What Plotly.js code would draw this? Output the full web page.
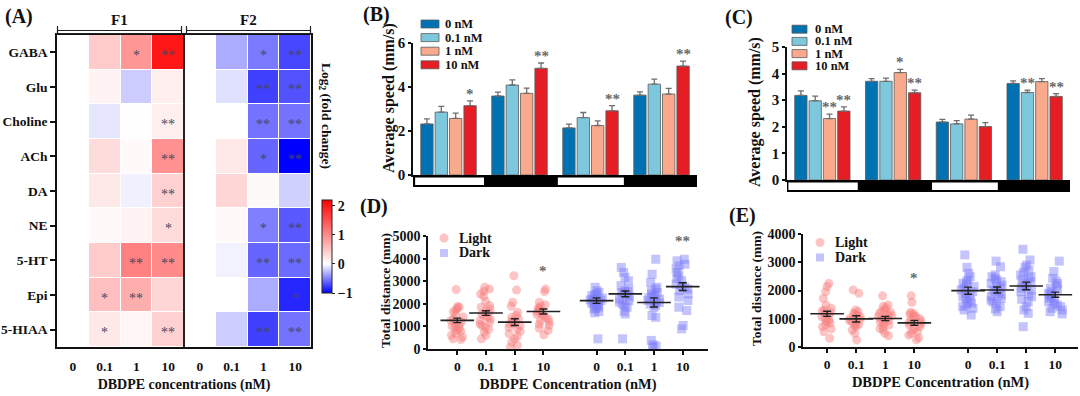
<!DOCTYPE html>
<html><head><meta charset="utf-8">
<script src="https://cdn.plot.ly/plotly-3.0.1.min.js"></script>
<style>html,body{margin:0;padding:0;background:#fff}#chart{width:1080px;height:396px}</style>
</head><body><div id="chart"></div>
<script>
// ---------------- DATA ----------------
const metabolites = ['GABA','Glu','Choline','ACh','DA','NE','5-HT','Epi','5-HIAA'];
const concLabels = ['0','0.1','1','10'];
const generations = ['F1','F2'];
// log2 fold change, columns: F1(0,0.1,1,10), F2(0,0.1,1,10)
const log2FC = [
  [0, 0.45, 0.90, 2.00, 0, -0.33, -0.52, -0.72],
  [0, 0.10, -0.20, 0.15, 0, -0.12, -0.75, -0.68],
  [0, -0.10, 0.02, 0.15, 0, 0.00, -0.55, -0.55],
  [0, 0.30, 0.05, 0.95, 0, 0.20, -0.60, -1.00],
  [0, 0.20, -0.06, 0.40, 0, 0.35, 0.04, -0.18],
  [0, 0.05, 0.10, 0.30, 0, 0.05, -0.50, -0.65],
  [0, 0.45, 1.10, 1.00, 0, -0.05, -0.60, -0.58],
  [0, 0.55, 0.70, 0.35, 0, 0.00, -0.33, -0.85],
  [0, 0.20, 0.08, 0.40, 0, -0.20, -0.75, -0.55]
];
const heatStars = [
  ['', '', '*', '**', '', '', '*', '**'],
  ['', '', '', '', '', '', '**', '**'],
  ['', '', '', '**', '', '', '**', '**'],
  ['', '', '', '**', '', '', '*', '**'],
  ['', '', '', '**', '', '', '', ''],
  ['', '', '', '*', '', '', '*', '**'],
  ['', '', '**', '**', '', '', '**', '**'],
  ['', '*', '**', '', '', '', '', '*'],
  ['', '*', '', '**', '', '', '**', '**']
];

const seriesNames = ['0 nM','0.1 nM','1 nM','10 nM'];
const seriesColors = ['rgb(0,114,178)','rgb(126,200,222)','rgb(250,170,140)','rgb(228,30,36)'];
const periods = ['Light 1','Dark 1','Light 2','Dark 2'];
// Panel B: average speed (mm/s), one row per concentration, columns = periods
const speedB = [
  [2.32, 3.59, 2.14, 3.63],
  [2.86, 4.09, 2.61, 4.13],
  [2.57, 3.71, 2.25, 3.68],
  [3.15, 4.85, 2.92, 4.95]
];
const speedBErr = [
  [0.23, 0.18, 0.17, 0.15],
  [0.26, 0.23, 0.23, 0.23],
  [0.24, 0.24, 0.21, 0.26],
  [0.22, 0.24, 0.23, 0.23]
];
const starsB = [[0,3,'*'],[1,3,'**'],[2,3,'**'],[3,3,'**']];
// Panel C
const speedC = [
  [3.18, 3.71, 2.18, 3.63],
  [2.98, 3.71, 2.11, 3.29],
  [2.31, 4.04, 2.29, 3.70],
  [2.59, 3.28, 2.01, 3.14]
];
const speedCErr = [
  [0.17, 0.10, 0.10, 0.10],
  [0.17, 0.12, 0.12, 0.09],
  [0.17, 0.12, 0.15, 0.11],
  [0.16, 0.10, 0.15, 0.11]
];
const starsC = [[0,2,'**'],[0,3,'**'],[1,2,'*'],[1,3,'**'],[3,1,'**'],[3,3,'**']];
const speedTitle = 'Average speed (mm/s)';

// Panel D: total distance (mm)
const conditionNames = ['Light','Dark'];
const distDLight = [
  [2630,1880,1850,1800,1720,1650,1550,1420,1330,1260,1200,1150,1100,1000,950,900,830,780,700,620,530,450,420],
  [2730,2650,2560,2430,2330,2100,1920,1850,1770,1700,1620,1550,1480,1400,1330,1250,1190,1100,1040,950,870,750,600,450],
  [3240,2610,2070,1890,1630,1480,1400,1330,1260,1220,1150,1110,1040,950,890,780,670,560,450,310,160,90],
  [2650,2540,2070,1960,1880,1820,1770,1700,1650,1600,1540,1480,1400,1330,1260,1190,1100,1040,920,820,630]
];
const distDDark = [
  [2730,2580,2500,2430,2400,2360,2290,2250,2210,2170,2140,2100,2070,2030,1990,1950,1920,1850,1800,1770,1660,1600,450],
  [3610,3390,3170,3020,2800,2650,2580,2540,2500,2430,2360,2300,2210,2140,2070,1990,1920,1850,1660,1550,450],
  [3970,3310,2950,2730,2650,2580,2500,2430,2380,2330,2270,2210,2150,2100,2050,1990,1920,1850,1480,1400,380,190,130,90],
  [3970,3900,3750,3680,3530,3390,3240,3120,3020,2870,2800,2730,2650,2580,2430,2300,2140,1850,1700,1040,890]
];
const meanDLight = [1265, 1590, 1190, 1660];
const semDLight = [100, 100, 150, 110];
const meanDDark = [2140, 2440, 2060, 2760];
const semDDark = [120, 125, 200, 170];
const starsD = [[3,'Light','*'],[3,'Dark','**']];

// Panel E
const distELight = [
  [2250,2140,1960,1720,1490,1370,1300,1270,1230,1190,1130,1070,1010,950,900,850,800,720,640,540,310],
  [2020,1900,1310,1250,1200,1160,1110,1070,1020,980,940,900,850,800,760,720,600,480,250],
  [1810,1490,1440,1390,1310,1270,1230,1190,1160,1110,1070,1040,1010,970,930,880,840,780,720,650,600,480,400],
  [1810,1580,1230,1190,1160,1110,1070,1010,960,910,870,820,780,720,660,600,540,480,420,330,250]
];
const distEDark = [
  [3260,2820,2610,2490,2370,2310,2250,2190,2140,2080,2020,1960,1900,1840,1780,1720,1660,1600,1550,1490,1430,1370,1310,1130],
  [3040,2840,2550,2490,2430,2370,2310,2250,2190,2140,2080,2020,1960,1900,1840,1780,1720,1660,1600,1540,1430,1350,1250],
  [3460,3080,2900,2820,2730,2640,2550,2490,2430,2370,2310,2250,2190,2140,2080,2020,1960,1870,1780,1690,1600,1430,1310,1190,720],
  [3040,2670,2430,2340,2250,2160,2080,2020,1960,1900,1840,1780,1720,1660,1600,1540,1490,1430,1370,1310,1250,1170]
];
const meanELight = [1175, 997, 1009, 855];
const semELight = [90, 110, 75, 85];
const meanEDark = [1994, 2018, 2160, 1852];
const semEDark = [125, 105, 135, 90];
const starsE = [[3,'Light','*']];
const distanceTitle = 'Total distance (mm)';

// ---------------- HELPERS ----------------
const W = 1080, H = 396;
const fx = px => px / W;
const fy = py => 1 - py / H;
const FONT = 'Liberation Serif, Times New Roman, serif';
const bold = (size, color) => ({family: FONT, size: size, color: color || '#111', weight: 700});
const BARGAP = 0.19, BARGROUPGAP = 0.14;
const slot = (1 - BARGAP) / 4;
const lightColor = 'rgba(248,125,125,0.45)';
const darkColor = 'rgba(125,125,250,0.45)';
const lightPos = [0, 1, 2, 3];
const darkPos = [4.85, 5.85, 6.85, 7.85];

const traces = [];
const annotations = [];
const shapes = [];
function paperText(text, x, y, font, extra) {
  annotations.push(Object.assign({xref: 'paper', yref: 'paper', x: fx(x), y: fy(y), xanchor: 'center', yanchor: 'middle',
    text: text, showarrow: false, font: font}, extra || {}));
}

// ---------------- PANEL A: heatmap ----------------
const colIdx = [];
generations.forEach((g, gi) => concLabels.forEach((c, ci) => colIdx.push(gi * concLabels.length + ci)));
traces.push({
  type: 'heatmap', z: log2FC, x: colIdx, y: metabolites, xaxis: 'x', yaxis: 'y',
  zmin: -1, zmax: 2.2, xgap: 1, ygap: 1,
  colorscale: [[0, 'rgb(0,0,255)'], [1 / 3.2, 'rgb(255,255,255)'], [1, 'rgb(255,0,0)']],
  colorbar: {
    x: fx(322), xanchor: 'left', xpad: 0, y: fy(246.5), yanchor: 'middle', ypad: 0,
    len: 93 / H, lenmode: 'fraction', thickness: 10, thicknessmode: 'pixels',
    outlinewidth: 1, outlinecolor: '#222', tickvals: [-1, 0, 1, 2], ticks: 'outside', ticklen: 3,
    tickcolor: '#222', tickfont: bold(14)
  },
  hovertemplate: '%{y}: %{z}<extra></extra>'
});
heatStars.forEach((row, ri) => row.forEach((s, ci) => {
  if (!s) return;
  annotations.push({xref: 'x', yref: 'y', x: colIdx[ci], y: metabolites[ri], text: s, showarrow: false,
    xanchor: 'center', yanchor: 'middle', yshift: -3, font: {family: FONT, size: 14, color: 'rgb(70,70,90)'}});
}));
// F1 / F2 brackets
[[57.5, 181.5, generations[0]], [186.5, 310.5, generations[1]]].forEach(([a, b, lab]) => {
  shapes.push({type: 'rect', xref: 'paper', yref: 'paper', x0: fx(a), x1: fx(b), y0: fy(33.5), y1: fy(30.5), line: {color: '#222', width: 1}});
  shapes.push({type: 'line', xref: 'paper', yref: 'paper', x0: fx(a), x1: fx(a), y0: fy(26), y1: fy(35), line: {color: '#222', width: 1.2}});
  shapes.push({type: 'line', xref: 'paper', yref: 'paper', x0: fx(b), x1: fx(b), y0: fy(26), y1: fy(35), line: {color: '#222', width: 1.2}});
  paperText(lab, (a + b) / 2, 20, bold(15));
});
shapes.push({type: 'line', xref: 'x', yref: 'paper', x0: 3.5, x1: 3.5, y0: fy(347), y1: fy(35), line: {color: '#222', width: 2}});
paperText('Log<sub>2</sub> (fold change)', 326, 116, bold(13.5), {textangle: 90});

// ---------------- PANELS B & C: bars ----------------
function addBars(vals, errs, xa, ya) {
  vals.forEach((row, k) => traces.push({
    type: 'bar', x: periods, y: row, name: seriesNames[k], xaxis: xa, yaxis: ya, showlegend: false,
    marker: {color: seriesColors[k], line: {color: 'rgb(90,90,90)', width: 0.8}},
    error_y: {type: 'data', symmetric: false, array: errs[k], arrayminus: row.map(() => 0),
      color: 'rgb(110,110,110)', thickness: 1.3, width: 3}
  }));
}
function addBarStars(stars, vals, errs, xa, ya) {
  stars.forEach(([g, k, t]) => annotations.push({
    xref: xa, yref: ya, x: g + (k - 1.5) * slot, y: vals[k][g] + errs[k][g], text: t, showarrow: false,
    xanchor: 'center', yanchor: 'bottom', yshift: -3, font: {family: FONT, size: 15, color: 'rgb(105,105,105)', weight: 700}
  }));
}
function addStrip(xa, top, whites) {
  shapes.push({type: 'rect', xref: xa, yref: 'paper', x0: -0.5, x1: 3.5, y0: fy(top + 12), y1: fy(top), fillcolor: '#000', line: {width: 0}, layer: 'above'});
  whites.forEach(([a, b]) => shapes.push({type: 'rect', xref: xa, yref: 'paper', x0: a, x1: b, y0: fy(top + 10), y1: fy(top + 2.5), fillcolor: '#fff', line: {width: 0}, layer: 'above'}));
}
function addBarLegend(x0, x1, yc, pitch, textX) {
  seriesNames.forEach((n, k) => {
    const y = yc + pitch * k;
    shapes.push({type: 'rect', xref: 'paper', yref: 'paper', x0: fx(x0), x1: fx(x1), y0: fy(y + 4), y1: fy(y - 4),
      fillcolor: seriesColors[k], line: {color: 'rgb(90,90,90)', width: 0.8}});
    paperText(n, textX, y, bold(12.5), {xanchor: 'left'});
  });
}
addBars(speedB, speedBErr, 'x2', 'y2');
addBarStars(starsB, speedB, speedBErr, 'x2', 'y2');
addStrip('x2', 175, [[-0.47, 0.5], [1.54, 2.47]]);
addBarLegend(421, 439, 24, 13.6, 443);
paperText(speedTitle, 389, 98, bold(16), {textangle: -90});
addBars(speedC, speedCErr, 'x3', 'y3');
addBarStars(starsC, speedC, speedCErr, 'x3', 'y3');
addStrip('x3', 180, [[-0.48, 0.5], [1.55, 2.48]]);
addBarLegend(792, 807, 29.2, 12.2, 813);
paperText(speedTitle, 755, 112, bold(16), {textangle: -90});

// ---------------- PANELS D & E: scatter ----------------
function addDots(groups, pos, xa, ya, symbol, color, name) {
  const xs = [], ys = [];
  groups.forEach((g, i) => g.forEach(v => { xs.push(pos[i]); ys.push(v); }));
  traces.push({type: 'box', x: xs, y: ys, xaxis: xa, yaxis: ya, name: name, showlegend: false,
    boxpoints: 'all', jitter: 1, pointpos: 0, fillcolor: 'rgba(0,0,0,0)', line: {width: 0, color: 'rgba(0,0,0,0)'},
    marker: {symbol: symbol, size: 9, color: color, line: {width: 0}}, hoveron: 'points'});
}
function addMeans(pos, means, sems, xa, ya) {
  traces.push({type: 'scatter', mode: 'markers', x: pos, y: means, xaxis: xa, yaxis: ya, showlegend: false, cliponaxis: false,
    marker: {symbol: 'line-ew', size: 24, color: '#222', line: {width: 1.6, color: '#222'}},
    error_y: {type: 'data', array: sems, color: '#222', thickness: 1.4, width: 4}});
}
function addDotLegend(x, y1, y2, textX) {
  shapes.push({type: 'circle', xref: 'paper', yref: 'paper', x0: fx(x - 4.5), x1: fx(x + 4.5), y0: fy(y1 + 4.5), y1: fy(y1 - 4.5), fillcolor: lightColor, line: {width: 0}});
  shapes.push({type: 'rect', xref: 'paper', yref: 'paper', x0: fx(x - 4), x1: fx(x + 4), y0: fy(y2 + 4), y1: fy(y2 - 4), fillcolor: darkColor, line: {width: 0}});
  paperText(conditionNames[0], textX, y1, bold(14), {xanchor: 'left'});
  paperText(conditionNames[1], textX, y2, bold(14), {xanchor: 'left'});
}
function addDotStars(stars, lightGroups, darkGroups, xa, ya) {
  stars.forEach(([i, cond, t]) => {
    const grp = cond === 'Light' ? lightGroups[i] : darkGroups[i];
    const pos = cond === 'Light' ? lightPos[i] : darkPos[i];
    annotations.push({xref: xa, yref: ya, x: pos, y: Math.max(...grp), text: t, showarrow: false,
      xanchor: 'center', yanchor: 'bottom', yshift: 8, font: {family: FONT, size: 15, color: 'rgb(105,105,105)', weight: 700}});
  });
}
addDots(distDLight, lightPos, 'x4', 'y4', 'circle', lightColor, 'Light');
addDots(distDDark, darkPos, 'x4', 'y4', 'square', darkColor, 'Dark');
addMeans(lightPos, meanDLight, semDLight, 'x4', 'y4');
addMeans(darkPos, meanDDark, semDDark, 'x4', 'y4');
addDotLegend(444, 238, 253, 457);
addDotStars(starsD, distDLight, distDDark, 'x4', 'y4');
paperText(distanceTitle, 385, 290, bold(13.5), {textangle: -90});
addDots(distELight, lightPos, 'x5', 'y5', 'circle', lightColor, 'Light');
addDots(distEDark, darkPos, 'x5', 'y5', 'square', darkColor, 'Dark');
addMeans(lightPos, meanELight, semELight, 'x5', 'y5');
addMeans(darkPos, meanEDark, semEDark, 'x5', 'y5');
addDotLegend(820, 242.5, 257.5, 833);
addDotStars(starsE, distELight, distEDark, 'x5', 'y5');
paperText(distanceTitle, 756, 289, bold(13.5), {textangle: -90});

// panel labels
[['(A)', 19, 16.5], ['(B)', 376, 15], ['(C)', 739, 17.5], ['(D)', 374, 206.5], ['(E)', 742, 215]].forEach(([t, x, y]) =>
  paperText(t, x, y, bold(20)));

// ---------------- LAYOUT ----------------
const axBase = {showgrid: false, zeroline: false, showline: true, linecolor: '#111', linewidth: 1.5,
  ticks: 'outside', ticklen: 4, tickwidth: 1.5, tickcolor: '#111', tickfont: bold(14), automargin: false, fixedrange: true};
const layout = {
  width: W, height: H, margin: {l: 0, r: 0, t: 0, b: 0}, paper_bgcolor: '#fff', plot_bgcolor: 'rgba(0,0,0,0)',
  showlegend: false, barmode: 'group', bargap: BARGAP, bargroupgap: BARGROUPGAP, boxgap: 0.3,
  font: {family: FONT, color: '#111'},
  xaxis: Object.assign({}, axBase, {domain: [fx(57), fx(311)], anchor: 'y', range: [-0.5, 7.5], tickvals: colIdx,
    ticktext: colIdx.map(i => concLabels[i % concLabels.length]), ticks: '', mirror: true, ticklabelstandoff: 6,
    tickfont: bold(13.5), title: {text: 'DBDPE concentrations (nM)', font: bold(14), standoff: 6}}),
  yaxis: Object.assign({}, axBase, {domain: [fy(347), fy(35)], anchor: 'x', type: 'category', autorange: 'reversed',
    mirror: true, ticklen: 5, tickfont: bold(13.5)}),
  xaxis2: Object.assign({}, axBase, {domain: [fx(413), fx(697)], anchor: 'y2', type: 'category', range: [-0.5, 3.5],
    showticklabels: false, ticks: '', linewidth: 2}),
  yaxis2: Object.assign({}, axBase, {domain: [fy(175), fy(43)], anchor: 'x2', range: [0, 6], dtick: 2, tickfont: bold(15), ticklen: 3}),
  xaxis3: Object.assign({}, axBase, {domain: [fx(787), fx(1070)], anchor: 'y3', type: 'category', range: [-0.5, 3.5],
    showticklabels: false, ticks: '', linewidth: 2}),
  yaxis3: Object.assign({}, axBase, {domain: [fy(180), fy(47)], anchor: 'x3', range: [0, 5], dtick: 1, tickfont: bold(15), ticklen: 3}),
  xaxis4: Object.assign({}, axBase, {domain: [fx(428), fx(708)], anchor: 'y4', range: [-1.02, 8.73],
    tickvals: lightPos.concat(darkPos), ticktext: concLabels.concat(concLabels), tickfont: bold(13.5),
    title: {text: 'DBDPE Concentration (nM)', font: bold(14.5), standoff: 6}}),
  yaxis4: Object.assign({}, axBase, {domain: [fy(349), fy(236)], anchor: 'x4', range: [0, 5000], dtick: 1000, tickfont: bold(14), ticklen: 3}),
  xaxis5: Object.assign({}, axBase, {domain: [fx(803), fx(1078)], anchor: 'y5', range: [-0.83, 8.63],
    tickvals: lightPos.concat(darkPos), ticktext: concLabels.concat(concLabels), tickfont: bold(13.5),
    title: {text: 'DBDPE Concentration (nM)', font: bold(14.5), standoff: 6}}),
  yaxis5: Object.assign({}, axBase, {domain: [fy(347), fy(234)], anchor: 'x5', range: [0, 4000], dtick: 1000, tickfont: bold(14), ticklen: 3}),
  shapes: shapes, annotations: annotations
};
Plotly.newPlot('chart', traces, layout, {displayModeBar: false, staticPlot: false, responsive: false});
</script></body></html>
